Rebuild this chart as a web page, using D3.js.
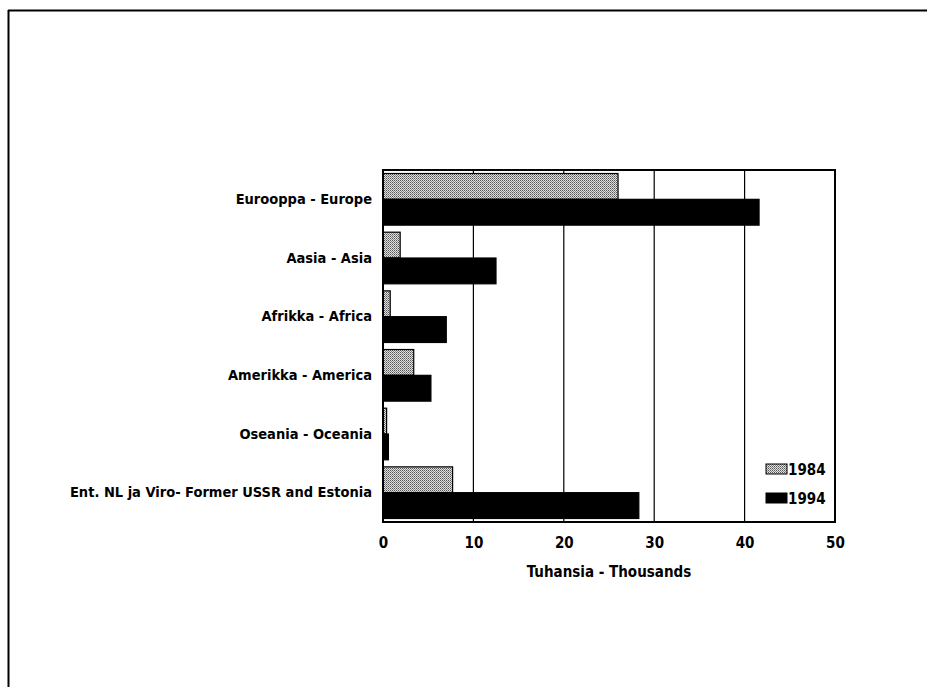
<!DOCTYPE html>
<html>
<head>
<meta charset="utf-8">
<script src="https://cdn.jsdelivr.net/npm/d3@7"></script>
<style>
  html, body { margin: 0; padding: 0; background: #fff; }
  svg { display: block; }
  text { font-family: "Liberation Sans Narrow", "DejaVu Sans Condensed", "Liberation Sans", sans-serif; font-weight: bold; fill: #000; }
</style>
</head>
<body>
<svg id="chart" width="927" height="687"></svg>
<script>
const categories = [
  "Eurooppa - Europe",
  "Aasia - Asia",
  "Afrikka - Africa",
  "Amerikka - America",
  "Oseania - Oceania",
  "Ent. NL ja Viro- Former USSR and Estonia"
];
const seriesNames = ["1984", "1994"];
const values1984 = [26.0, 1.9, 0.8, 3.4, 0.4, 7.7];
const values1994 = [41.6, 12.5, 7.0, 5.3, 0.6, 28.3];
const xTicks = [0, 10, 20, 30, 40, 50];
const xTitle = "Tuhansia - Thousands";

const svg = d3.select("#chart");
const defs = svg.append("defs");
const pat = defs.append("pattern")
  .attr("id", "stipple").attr("patternUnits", "userSpaceOnUse")
  .attr("width", 2).attr("height", 2);
pat.append("rect").attr("width", 2).attr("height", 2).attr("fill", "#e0e0e0");
pat.append("rect").attr("x", 0).attr("y", 0).attr("width", 1).attr("height", 1).attr("fill", "#555");
pat.append("rect").attr("x", 1).attr("y", 1).attr("width", 1).attr("height", 1).attr("fill", "#888");

// outer frame (top & left lines)
svg.append("line").attr("x1", 8).attr("y1", 10.5).attr("x2", 927).attr("y2", 10.5)
  .attr("stroke", "#000").attr("stroke-width", 2);
svg.append("line").attr("x1", 8.5).attr("y1", 10).attr("x2", 8.5).attr("y2", 687)
  .attr("stroke", "#000").attr("stroke-width", 2);

const pLeft = 383, pRight = 835, pTop = 170, pBottom = 522;
const x = d3.scaleLinear().domain([0, 50]).range([pLeft, pRight]);
const y = d3.scaleBand().domain(categories).range([pTop, pBottom]).paddingInner(0.12).paddingOuter(0.06);
const sub = d3.scaleBand().domain(seriesNames).range([0, y.bandwidth()]).padding(0);

// gridlines
svg.append("g").selectAll("line").data(xTicks.slice(1, -1)).join("line")
  .attr("x1", d => x(d)).attr("x2", d => x(d))
  .attr("y1", pTop).attr("y2", pBottom)
  .attr("stroke", "#000").attr("stroke-width", 1.2);

const fills = { "1984": "url(#stipple)", "1994": "#000" };
const rows = categories.map((c, i) => ({ c, v: [values1984[i], values1994[i]] }));
const g = svg.append("g");
rows.forEach(r => {
  seriesNames.forEach((s, j) => {
    g.append("rect")
      .attr("x", x(0))
      .attr("y", y(r.c) + sub(s))
      .attr("width", x(r.v[j]) - x(0))
      .attr("height", sub.bandwidth())
      .attr("fill", fills[s])
      .attr("stroke", "#000").attr("stroke-width", 1.2);
  });
});

// plot border
svg.append("rect").attr("x", pLeft).attr("y", pTop).attr("width", pRight - pLeft).attr("height", pBottom - pTop)
  .attr("fill", "none").attr("stroke", "#000").attr("stroke-width", 2);

// x axis
const xAxis = d3.axisBottom(x).tickValues(xTicks).tickSize(0).tickPadding(0).tickFormat(d3.format("d"));
const ax = svg.append("g").attr("transform", `translate(0,${pBottom})`).call(xAxis);
ax.select(".domain").remove();
ax.selectAll("text").attr("dy", null).attr("y", 26).attr("font-size", 15)
  .style("font-family", '"Liberation Sans Narrow", "DejaVu Sans Condensed", sans-serif').style("font-weight", "bold");

// y axis labels
const yAxis = d3.axisLeft(y).tickSize(0).tickPadding(11);
const ay = svg.append("g").attr("transform", `translate(${pLeft},0)`).call(yAxis);
ay.select(".domain").remove();
ay.selectAll("text").attr("font-size", 14.5)
  .style("font-family", '"Liberation Sans Narrow", "DejaVu Sans Condensed", sans-serif').style("font-weight", "bold");

// x title
svg.append("text").attr("x", (pLeft + pRight) / 2).attr("y", 577).attr("text-anchor", "middle")
  .attr("font-size", 15).text(xTitle);

// legend
const lg = svg.append("g");
seriesNames.forEach((s, i) => {
  const ly = 464 + i * 29;
  lg.append("rect").attr("x", 766).attr("y", ly).attr("width", 21).attr("height", 10)
    .attr("fill", fills[s]).attr("stroke", "#000").attr("stroke-width", 1);
  lg.append("text").attr("x", 788).attr("y", ly + 10.5).attr("font-size", 15).text(s);
});
</script>
</body>
</html>
